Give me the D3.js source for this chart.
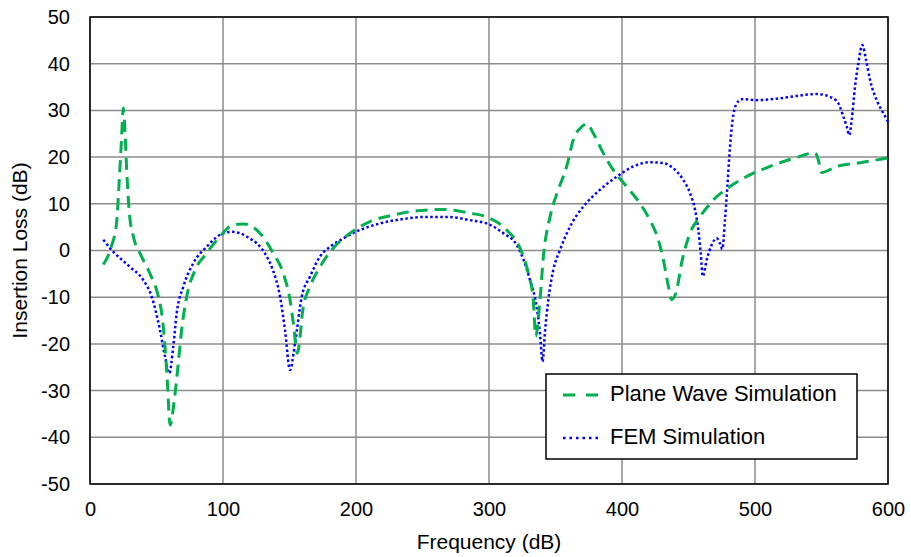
<!DOCTYPE html>
<html>
<head>
<meta charset="utf-8">
<script src="https://cdn.jsdelivr.net/npm/d3@7"></script>
<style>
  html, body { margin: 0; padding: 0; background: #fff; }
  svg { display: block; font-family: "Liberation Sans", Arial, sans-serif; }
</style>
</head>
<body>
<svg id="chart" width="911" height="557"></svg>
<script>
// ---- Data ----
const xTicks = [0, 100, 200, 300, 400, 500, 600];
const yTicks = [-50, -40, -30, -20, -10, 0, 10, 20, 30, 40, 50];

const pwFreq = [10, 16, 20, 22, 23.8, 25, 26.3, 27.6, 29.6, 32.6, 37.6, 45, 51.4, 54.6, 56.4, 58.1, 60.2, 63.4, 66.4, 68.9, 72.7, 79, 87.7, 97.7, 107.7, 115.3, 127.8, 137.8, 145.3, 150.4, 152.9, 155.9, 160.4, 165.4, 172.9, 182.9, 195.5, 210.5, 228, 245.6, 265.6, 285.7, 298.2, 313.3, 323.3, 329.6, 333.3, 335.1, 338.3, 341, 345.9, 352.1, 358.4, 363.4, 369.7, 373.9, 378.4, 386, 393.5, 403.5, 413.5, 421, 427.3, 431.1, 434.9, 437.3, 441.1, 444.8, 451.1, 458.6, 468.6, 481.2, 496.2, 511.3, 528.8, 545.1, 547.6, 550.1, 561.4, 578.9, 600];
const pwLoss = [-3, 0.8, 6, 15, 24.4, 30.5, 25.5, 17.2, 8, 3, -0.6, -4.9, -9.9, -14.9, -20.6, -27.7, -37.4, -32, -24.1, -17, -9.9, -4.2, -0.6, 3, 5.5, 5.7, 3.7, -0.6, -4.9, -10.6, -15.6, -22, -12, -7.7, -3.5, 0.5, 3.7, 6.2, 7.6, 8.5, 8.8, 8, 7.2, 4.4, 0.5, -4.9, -10.6, -18.4, -10.6, -1, 7.2, 13, 18, 23.7, 26.5, 27.1, 25.1, 20.8, 17.2, 13.7, 10.1, 6.5, 2.3, -2, -7.7, -10.5, -8.5, -2.7, 3.7, 7.2, 10.8, 13.7, 16.2, 18, 19.7, 20.9, 19.4, 16.7, 18, 18.8, 19.8];

const femFreq = [10, 16.3, 30, 40, 46.4, 52.6, 56.4, 59.6, 62.6, 65.2, 70.2, 77.7, 87.7, 100.2, 106.5, 117.8, 132.9, 137, 142.9, 146.6, 150.4, 154.1, 159.2, 165.4, 172.9, 180.5, 190.5, 203, 218, 235.6, 253.2, 268.2, 285.7, 300.8, 310.8, 320.8, 326, 330.8, 335.8, 338.3, 340.3, 342, 344.6, 348.3, 353.4, 360.9, 370.9, 383.5, 396, 408.5, 421, 431.1, 438.6, 446.1, 451.1, 454.9, 457.4, 459.2, 460.7, 463.7, 467.4, 471.2, 473.7, 475.4, 477.4, 479.2, 481.2, 483.2, 485.7, 490, 501.3, 516.3, 531.3, 546.4, 556.4, 562.7, 566.4, 569, 570.9, 572.7, 575.2, 577.7, 580.7, 583.5, 586.5, 591.5, 596.5, 600];
const femLoss = [2.3, 0.1, -3.5, -6.3, -9.9, -17, -22.7, -26.3, -20.6, -13.4, -7.7, -2.7, 0.8, 3.7, 4, 3, -1.3, -3.8, -9.9, -17, -25.6, -19.9, -9.9, -5.6, -1.3, 0.8, 2.6, 4.4, 5.8, 6.75, 7.2, 7.2, 6.5, 5.5, 3.7, 1.2, -2, -6.3, -12, -17.7, -23.8, -17.7, -10.6, -4.2, 0.1, 5.1, 9.4, 13, 15.8, 18, 18.9, 18.7, 17.6, 15.1, 12.3, 8.7, 4.4, -0.6, -5.5, -2, 1.2, 2.6, 1.5, 0.3, 6.5, 13.7, 22.2, 28, 31.2, 32.4, 32.2, 32.5, 33.1, 33.5, 32.9, 31.5, 28.7, 26.5, 24.7, 28, 35.1, 40.1, 44, 40.8, 36.5, 32.2, 29.4, 27.6];

const seriesNames = ["Plane Wave Simulation", "FEM Simulation"];
const xTitle = "Frequency (dB)";
const yTitle = "Insertion Loss (dB)";

// ---- Layout ----
const svg = d3.select("#chart");
const L = 90, R = 888, T = 17, B = 484;
const x = d3.scaleLinear().domain([0, 600]).range([L, R]);
const y = d3.scaleLinear().domain([-50, 50]).range([B, T]);

// Grid
const grid = svg.append("g");
grid.selectAll("line.v").data(xTicks).join("line")
  .attr("x1", d => x(d)).attr("x2", d => x(d)).attr("y1", T).attr("y2", B)
  .attr("stroke", "#8c8c8c").attr("stroke-width", 1.5);
grid.selectAll("line.h").data(yTicks).join("line")
  .attr("y1", d => y(d)).attr("y2", d => y(d)).attr("x1", L).attr("x2", R)
  .attr("stroke", "#8c8c8c").attr("stroke-width", 1.5);

// Axes (labels only, no tick marks); plain hyphen for negatives
const fmt = d => String(d);
const xAxis = svg.append("g").attr("transform", `translate(0,${B})`)
  .call(d3.axisBottom(x).tickValues(xTicks).tickSize(0).tickPadding(18).tickFormat(fmt));
const yAxis = svg.append("g").attr("transform", `translate(${L},0)`)
  .call(d3.axisLeft(y).tickValues(yTicks).tickSize(0).tickPadding(20).tickFormat(fmt));
[xAxis, yAxis].forEach(a => {
  a.select(".domain").remove();
  a.selectAll("text").attr("font-size", 20).attr("fill", "#000")
    .attr("font-family", "'Liberation Sans', Arial, sans-serif");
});

// Frame
svg.append("rect").attr("x", L).attr("y", T).attr("width", R - L).attr("height", B - T)
  .attr("fill", "none").attr("stroke", "#000").attr("stroke-width", 1.5);

// Lines
const line = d3.line().x(d => x(d[0])).y(d => y(d[1])).curve(d3.curveMonotoneX);
const pw = pwFreq.map((f, i) => [f, pwLoss[i]]);
const fem = femFreq.map((f, i) => [f, femLoss[i]]);

svg.append("path").datum(fem).attr("d", line)
  .attr("fill", "none").attr("stroke", "#0000ff").attr("stroke-width", 2.5)
  .attr("stroke-dasharray", "2.5,2.5");
svg.append("path").datum(pw).attr("d", line)
  .attr("fill", "none").attr("stroke", "#00b050").attr("stroke-width", 3)
  .attr("stroke-dasharray", "12,7");

// Axis titles
svg.append("text").attr("x", (L + R) / 2).attr("y", 543)
  .attr("text-anchor", "middle").attr("dominant-baseline", "middle")
  .attr("font-size", 21).text(xTitle);
svg.append("text").attr("transform", `translate(21,${(T + B) / 2}) rotate(-90)`)
  .attr("text-anchor", "middle").attr("dominant-baseline", "middle")
  .attr("font-size", 21).text(yTitle);

// Legend
const lg = svg.append("g");
lg.append("rect").attr("x", 546).attr("y", 374).attr("width", 311).attr("height", 85)
  .attr("fill", "#fff").attr("stroke", "#000").attr("stroke-width", 1.5);
const legendItems = [
  { name: seriesNames[0], color: "#00b050", dash: "12,11", w: 3, yy: 395 },
  { name: seriesNames[1], color: "#0000ff", dash: "2.5,4", w: 2.5, yy: 438 }
];
legendItems.forEach(it => {
  lg.append("line").attr("x1", 563).attr("x2", 600).attr("y1", it.yy).attr("y2", it.yy)
    .attr("stroke", it.color).attr("stroke-width", it.w).attr("stroke-dasharray", it.dash);
  lg.append("text").attr("x", 610).attr("y", it.yy).attr("dominant-baseline", "middle")
    .attr("font-size", 22).text(it.name);
});
</script>
</body>
</html>
